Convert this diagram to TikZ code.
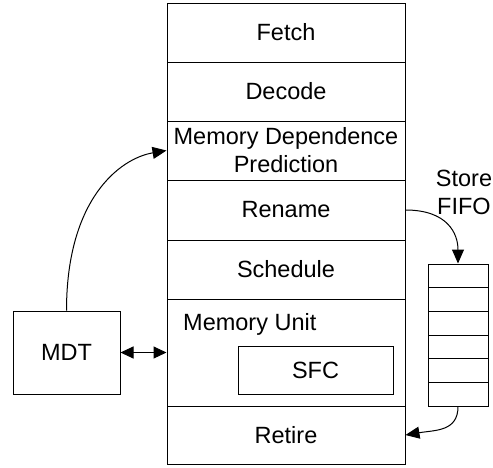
\documentclass[tikz,border=0pt]{standalone}
\usepackage{fontspec}
\setmainfont{Liberation Sans}
\usetikzlibrary{arrows.meta}
\tikzset{
  lbl/.style={font=\fontsize{23.5}{28}\selectfont},
  stage/.style={draw, line width=1pt, inner sep=0pt, minimum width=238pt, lbl, align=center},
  box/.style={draw, line width=1pt, inner sep=0pt, lbl},
  cell/.style={draw, line width=1pt, inner sep=0pt, minimum width=60pt, minimum height=23.67pt},
  conn/.style={line width=1pt, -{Triangle[length=14pt,width=12pt]}},
  dconn/.style={line width=1pt, {Triangle[length=13pt,width=12pt]}-{Triangle[length=13pt,width=12pt]}}
}
\begin{document}
\begin{tikzpicture}[x=1pt,y=-1pt]
\useasboundingbox (0,0) rectangle (493,467);
\node[stage, minimum height=59pt] (fetch) at (286,32.5) {Fetch};
\node[stage, minimum height=59pt] (decode) at (286,91.5) {Decode};
\node[stage, minimum height=59pt] (mdp) at (286,150.5) {Memory Dependence\\Prediction};
\node[stage, minimum height=60pt] (rename) at (286,210) {Rename};
\node[stage, minimum height=59pt] (schedule) at (286,269.5) {Schedule};
\node[stage, minimum height=107pt] (memunit) at (286,352.5) {};
\node[stage, minimum height=58pt] (retire) at (286,435) {Retire};
\node[lbl, anchor=base west, inner sep=0pt] (mulabel) at (183,330) {Memory Unit};
\node[box, minimum width=155pt, minimum height=48pt] (sfc) at (315.5,370) {SFC};
\node[box, minimum width=107pt, minimum height=83pt] (mdt) at (66.5,352.5) {MDT};
\node[lbl, align=center, inner sep=0pt] (storefifo) at (464,192) {Store\\FIFO};
\foreach \i in {0,...,5} {
  \node[cell] (f\i) at (458,{264+23.67*(\i+0.5)}) {};
}
\draw[dconn] (mdt.east) -- (memunit.west);
\draw[conn] (mdt.north) .. controls +(0,-111) and +(-47,8) .. (mdp.west);
\draw[conn] (rename.east) .. controls +(42,0) and +(0,-30) .. (f0.north);
\draw[conn] (f5.south) .. controls +(0,25) and +(30,-5) .. (retire.east);
\end{tikzpicture}
\end{document}
